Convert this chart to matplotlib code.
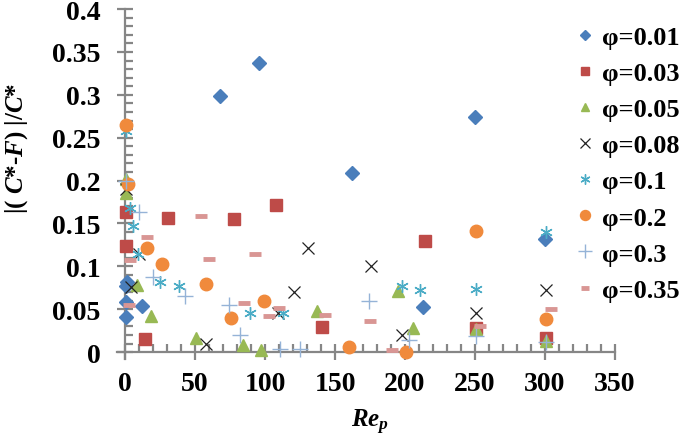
import matplotlib
matplotlib.use("Agg")
import matplotlib.pyplot as plt
from matplotlib.ticker import MultipleLocator

# ── data ──────────────────────────────────────────────────────────────────────
x_001 = [0.5, 1, 1, 1.5, 12, 68, 96, 162, 213, 250, 300]
y_001 = [0.041, 0.058, 0.077, 0.082, 0.054, 0.299, 0.337, 0.209, 0.053, 0.274, 0.132]

x_003 = [1, 1, 14.6, 30.6, 78, 108, 141, 214, 251, 301]
y_003 = [0.163, 0.124, 0.015, 0.156, 0.155, 0.171, 0.029, 0.130, 0.028, 0.017]

x_005 = [0.5, 1, 8.4, 18.4, 51, 84, 97, 137, 195, 206, 251, 301]
y_005 = [0.202, 0.186, 0.078, 0.042, 0.016, 0.008, 0.002, 0.048, 0.071, 0.028, 0.027, 0.013]

x_008 = [0.5, 4, 10, 58, 109, 120.5, 131, 176, 198, 251, 301]
y_008 = [0.19, 0.076, 0.114, 0.009, 0.046, 0.070, 0.121, 0.101, 0.020, 0.046, 0.073]

x_01 = [1, 3.6, 6, 9.6, 25, 38.5, 89, 112.6, 198, 211, 251, 301]
y_01 = [0.258, 0.168, 0.147, 0.115, 0.082, 0.077, 0.046, 0.046, 0.077, 0.073, 0.074, 0.140]

x_02 = [1, 2, 15.5, 26.5, 57.5, 75.5, 99, 160, 201, 251, 301]
y_02 = [0.265, 0.196, 0.121, 0.103, 0.079, 0.040, 0.060, 0.006, 0.0, 0.141, 0.039]

x_03 = [1, 10, 20, 43, 74, 82, 111, 125, 174.5, 203, 251, 301]
y_03 = [0.200, 0.163, 0.088, 0.065, 0.055, 0.020, 0.004, 0.004, 0.060, 0.014, 0.019, 0.012]

x_035 = [3, 3.6, 15.8, 54.6, 60.3, 85, 92.7, 103, 110, 143, 175, 190.5, 253.6, 304]
y_035 = [0.055, 0.107, 0.134, 0.159, 0.109, 0.057, 0.114, 0.042, 0.051, 0.043, 0.036, 0.003, 0.031, 0.050]

labels = ["φ=0.01", "φ=0.03", "φ=0.05", "φ=0.08", "φ=0.1", "φ=0.2", "φ=0.3", "φ=0.35"]

# ── figure ────────────────────────────────────────────────────────────────────
plt.rcParams['font.family'] = ['Liberation Serif', 'DejaVu Serif']
plt.rcParams['font.weight'] = 'bold'
plt.rcParams['mathtext.fontset'] = 'custom'
plt.rcParams['mathtext.it'] = 'Liberation Serif:italic:bold'
plt.rcParams['mathtext.rm'] = 'Liberation Serif:bold'

fig = plt.figure(figsize=(6.84, 4.39), dpi=100)
ax = fig.add_axes([0.1705, 0.180, 0.7287, 0.797])

series = [
    (x_001, y_001, dict(marker='D', color='#4A7EBB', ms=7, mec='#4A7EBB')),
    (x_003, y_003, dict(marker='s', color='#BE4B48', ms=8, mec='#BE4B48')),
    (x_005, y_005, dict(marker='^', color='#98B954', ms=8, mec='#98B954')),
    (x_008, y_008, dict(marker='x', color='#222222', ms=9, mew=0.9)),
    (x_01, y_01, dict(marker=(6, 2, 0), color='#4BACC6', ms=9, mew=1.0)),
    (x_02, y_02, dict(marker='o', color='#F08A3C', ms=9, mec='#F08A3C')),
    (x_03, y_03, dict(marker='+', color='#95B3D7', ms=12, mew=1.0)),
    (x_035, y_035, dict(marker='_', color='#D99694', ms=8, mew=3.5)),
]
for (xs, ys, st), lab in zip(series, labels):
    ax.plot(xs, ys, linestyle='none', label=lab, clip_on=False, **st)

ax.set_xlim(-6, 350)
ax.set_ylim(-0.008, 0.4)
ax.xaxis.set_major_locator(MultipleLocator(50))
ax.xaxis.set_minor_locator(MultipleLocator(10))
ax.yaxis.set_major_locator(MultipleLocator(0.05))
ax.yaxis.set_minor_locator(MultipleLocator(0.01))
ax.yaxis.set_major_formatter(plt.FuncFormatter(lambda v, p: "0" if abs(v) < 1e-9 else f"{v:g}"))

for side in ['top', 'right']:
    ax.spines[side].set_visible(False)
ax.spines['left'].set_position(('data', 0))
ax.spines['bottom'].set_position(('data', 0))
for side in ['left', 'bottom']:
    ax.spines[side].set_color('#868686')
    ax.spines[side].set_linewidth(1.6)
    ax.spines[side].set_zorder(0)

ax.tick_params(which='major', direction='inout', length=11, width=1.6, color='#868686',
               labelsize=20)
ax.tick_params(which='minor', direction='in', length=5.5, width=1.6, color='#868686')
ax.tick_params(axis='y', which='major', pad=12)
ax.tick_params(axis='x', which='major', pad=8)

fig.text(0.541, 0.027, r"$Re_p$", fontsize=18, ha='center', va='baseline')
fig.text(0.024, 0.663, r"|( $C$*-$F$) |/$C$*", fontsize=18, rotation=90,
         ha='center', va='center')

leg = fig.legend(loc='upper left', bbox_to_anchor=(0.8246, 0.964), frameon=False,
                 prop={'size': 19, 'weight': 'bold'}, handlelength=0.8, markerscale=0.8,
                 handletextpad=0.25, labelspacing=0.48, borderaxespad=0)

fig.savefig("out.png", dpi=100)
